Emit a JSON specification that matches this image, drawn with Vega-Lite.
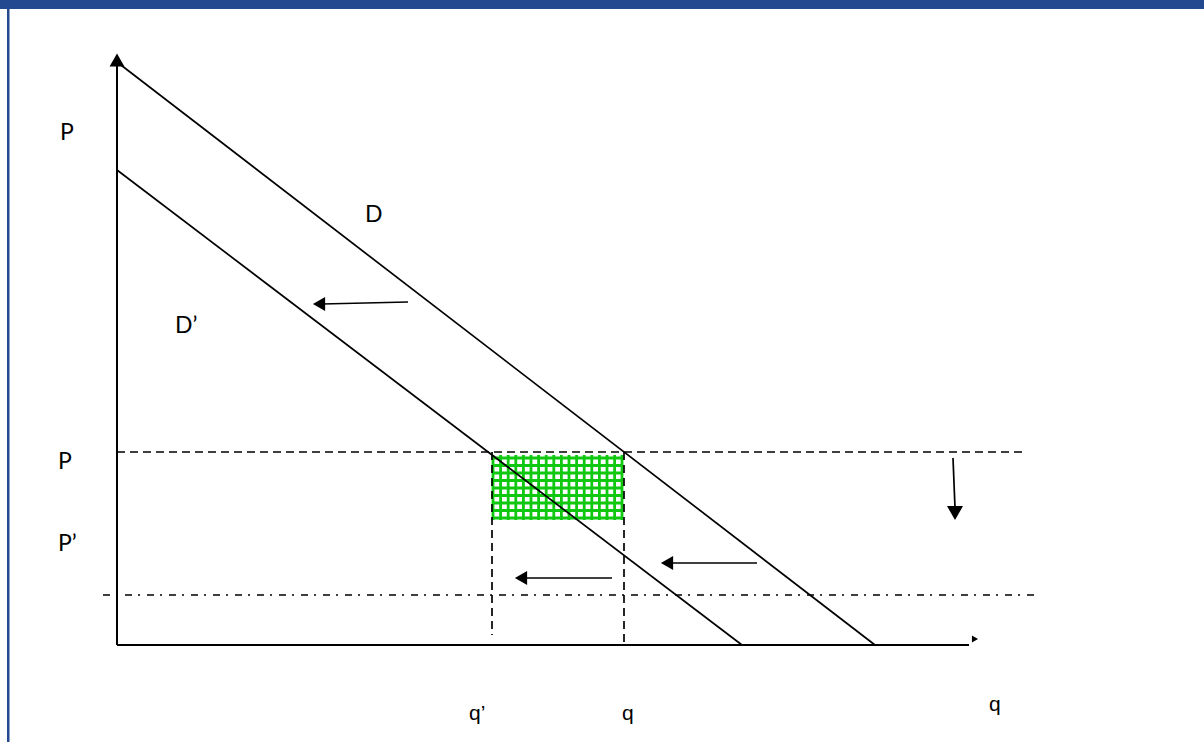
{
  "$schema": "https://vega.github.io/schema/vega-lite/v6.json",
  "width": 1204,
  "height": 742,
  "autosize": {"type": "fit", "contains": "padding"},
  "padding": 0,
  "background": "white",
  "config": {"view": {"stroke": null}},
  "encoding": {
    "x": {"field": "q", "type": "quantitative", "scale": {"domain": [-117, 1087], "nice": false, "zero": false}, "axis": null},
    "y": {"field": "p", "type": "quantitative", "scale": {"domain": [-97, 645], "nice": false, "zero": false}, "axis": null}
  },
  "layer": [
    {
      "data": {"values": [
        {"q": -117, "q2": 1087, "p": 636, "p2": 645},
        {"q": -110, "q2": -107.5, "p": -97, "p2": 645}
      ]},
      "mark": {"type": "rect", "color": "#234A91"},
      "encoding": {"x2": {"field": "q2"}, "y2": {"field": "p2"}}
    },
    {
      "data": {"values": [
        {"q": 376, "q2": 376, "p": 125, "p2": 190},
        {"q": 383.6, "q2": 383.6, "p": 125, "p2": 190},
        {"q": 391.2, "q2": 391.2, "p": 125, "p2": 190},
        {"q": 398.8, "q2": 398.8, "p": 125, "p2": 190},
        {"q": 406.4, "q2": 406.4, "p": 125, "p2": 190},
        {"q": 414, "q2": 414, "p": 125, "p2": 190},
        {"q": 421.6, "q2": 421.6, "p": 125, "p2": 190},
        {"q": 429.2, "q2": 429.2, "p": 125, "p2": 190},
        {"q": 436.8, "q2": 436.8, "p": 125, "p2": 190},
        {"q": 444.4, "q2": 444.4, "p": 125, "p2": 190},
        {"q": 452, "q2": 452, "p": 125, "p2": 190},
        {"q": 459.6, "q2": 459.6, "p": 125, "p2": 190},
        {"q": 467.2, "q2": 467.2, "p": 125, "p2": 190},
        {"q": 474.8, "q2": 474.8, "p": 125, "p2": 190},
        {"q": 482.4, "q2": 482.4, "p": 125, "p2": 190},
        {"q": 490, "q2": 490, "p": 125, "p2": 190},
        {"q": 497.6, "q2": 497.6, "p": 125, "p2": 190},
        {"q": 505, "q2": 505, "p": 125, "p2": 190},
        {"q": 376, "q2": 505, "p": 187, "p2": 187},
        {"q": 376, "q2": 505, "p": 179.5, "p2": 179.5},
        {"q": 376, "q2": 505, "p": 172, "p2": 172},
        {"q": 376, "q2": 505, "p": 164.5, "p2": 164.5},
        {"q": 376, "q2": 505, "p": 157, "p2": 157},
        {"q": 376, "q2": 505, "p": 149.5, "p2": 149.5},
        {"q": 376, "q2": 505, "p": 142, "p2": 142},
        {"q": 376, "q2": 505, "p": 134.5, "p2": 134.5},
        {"q": 376, "q2": 505, "p": 127, "p2": 127}
      ]},
      "mark": {"type": "rule", "color": "#10c810", "strokeWidth": 2.8},
      "encoding": {"x2": {"field": "q2"}, "y2": {"field": "p2"}}
    },
    {
      "data": {"values": [
        {"q": 0, "q2": 0, "p": 0, "p2": 580},
        {"q": 0, "q2": 852, "p": 0, "p2": 0}
      ]},
      "mark": {"type": "rule", "color": "black", "strokeWidth": 2},
      "encoding": {"x2": {"field": "q2"}, "y2": {"field": "p2"}}
    },
    {
      "data": {"values": [
        {"curve": "D", "q": 0, "q2": 758, "p": 583, "p2": 0},
        {"curve": "D'", "q": 0, "q2": 625, "p": 475, "p2": 0},
        {"curve": "a1", "q": 291, "q2": 205, "p": 343, "p2": 341},
        {"curve": "a2", "q": 640, "q2": 552, "p": 82, "p2": 82},
        {"curve": "a3", "q": 495, "q2": 406, "p": 67, "p2": 67},
        {"curve": "a4", "q": 836, "q2": 838, "p": 187, "p2": 137}
      ]},
      "mark": {"type": "rule", "color": "black", "strokeWidth": 1.7},
      "encoding": {"x2": {"field": "q2"}, "y2": {"field": "p2"}}
    },
    {
      "data": {"values": [
        {"q": 0, "q2": 905, "p": 193, "p2": 193},
        {"q": 375, "q2": 375, "p": 193, "p2": 10},
        {"q": 507, "q2": 507, "p": 193, "p2": 0}
      ]},
      "mark": {"type": "rule", "color": "black", "strokeWidth": 1.7, "strokeDash": [8, 5]},
      "encoding": {"x2": {"field": "q2"}, "y2": {"field": "p2"}}
    },
    {
      "data": {"values": [
        {"q": -14, "q2": 918, "p": 50, "p2": 50}
      ]},
      "mark": {"type": "rule", "color": "black", "strokeWidth": 1.7, "strokeDash": [7, 6, 2, 7]},
      "encoding": {"x2": {"field": "q2"}, "y2": {"field": "p2"}}
    },
    {
      "data": {"values": [
        {"head": "triangle-up", "q": 0, "p": 585, "s": 220},
        {"head": "triangle-left", "q": 202, "p": 341, "s": 200},
        {"head": "triangle-left", "q": 550, "p": 82, "s": 200},
        {"head": "triangle-left", "q": 404, "p": 67, "s": 200},
        {"head": "triangle-down", "q": 838, "p": 132, "s": 256},
        {"head": "triangle-right", "q": 858, "p": 6, "s": 50}
      ]},
      "mark": {"type": "point", "filled": true, "color": "black", "opacity": 1, "strokeWidth": 0},
      "encoding": {
        "shape": {"field": "head", "type": "nominal", "scale": null, "legend": null},
        "size": {"field": "s", "type": "quantitative", "scale": null, "legend": null}
      }
    },
    {
      "data": {"values": [
        {"label": "P", "q": -57, "p": 505},
        {"label": "D", "q": 248, "p": 423},
        {"label": "D’", "q": 58, "p": 312},
        {"label": "P", "q": -59, "p": 176},
        {"label": "P’", "q": -59, "p": 94}
      ]},
      "mark": {"type": "text", "font": "Lato", "fontSize": 23, "align": "left", "baseline": "alphabetic", "color": "black"},
      "encoding": {"text": {"field": "label"}}
    },
    {
      "data": {"values": [
        {"label": "q’", "q": 352, "p": -75},
        {"label": "q", "q": 505, "p": -75},
        {"label": "q", "q": 872, "p": -66}
      ]},
      "mark": {"type": "text", "font": "Liberation Sans", "fontSize": 21, "align": "left", "baseline": "alphabetic", "color": "black"},
      "encoding": {"text": {"field": "label"}}
    }
  ]
}
